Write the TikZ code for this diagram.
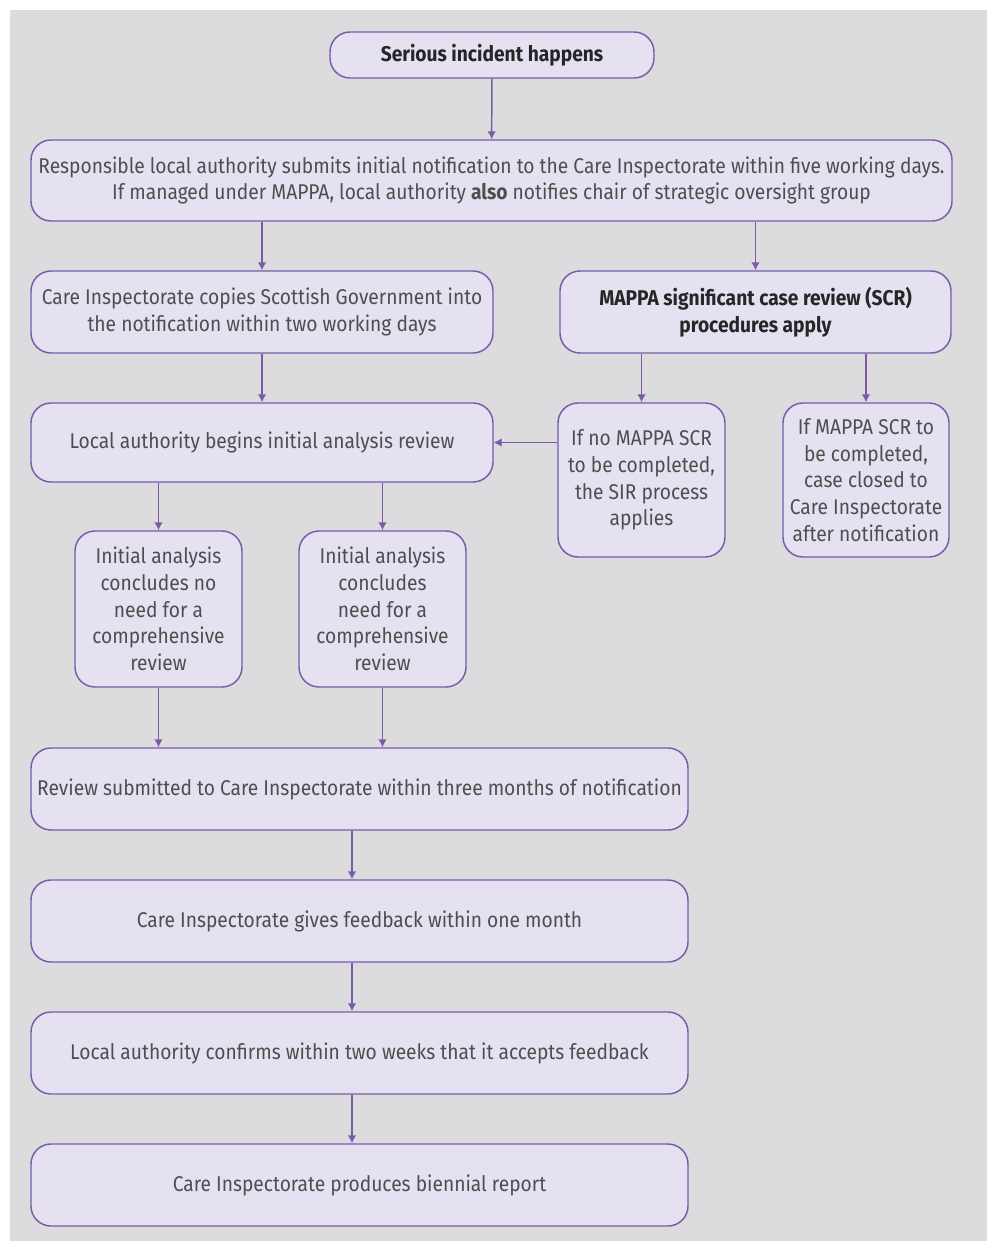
\documentclass[tikz,border=0pt]{standalone}
\usepackage{fontspec}
\setmainfont{Fira Sans}[FakeStretch=0.9]
\usetikzlibrary{arrows.meta,positioning}
\definecolor{panelgrey}{HTML}{DCDCDE}
\definecolor{boxfill}{HTML}{E5E1F0}
\definecolor{boxline}{HTML}{7A5BA8}
\definecolor{textgrey}{HTML}{4E4E4E}
\begin{document}
\begin{tikzpicture}[x=0.75pt,y=-0.75pt,>={Latex[length=6pt,width=6.5pt]},
stage/.style={
% The shape:
rectangle,rounded corners=15pt,
% The border:
draw=boxline,line width=1.1pt,
% The filling:
fill=boxfill,
% Font
text=textgrey,align=center,inner sep=0pt,
font=\fontsize{16}{20}\selectfont},
size/.style 2 args={minimum width=#1*0.75pt,minimum height=#2*0.75pt},
key/.style={text=black!85,font=\fontsize{16}{20}\selectfont\bfseries},
link/.style={->,draw=boxline,line width=1.1pt}]

\useasboundingbox (0,0) rectangle (987,1241);
\fill[panelgrey] (10,10) rectangle (987,1241);

\node (serious) [stage,key,size={324}{46}] at (492,55) {Serious incident happens};
\node (resp) [stage,size={921}{81}] at (491.5,180.5) {Responsible local authority submits initial notification to the Care Inspectorate within five working days.\\ If managed under MAPPA, local authority \textbf{also} notifies chair of strategic oversight group};
\node (copies) [stage,size={462}{82}] at (262,312) {Care Inspectorate copies Scottish Government into\\ the notification within two working days};
\node (mappa) [stage,key,size={391}{82}] at (755.5,312) {MAPPA significant case review (SCR)\\ procedures apply};
\node (local) [stage,size={462}{79}] at (262,442.5) {Local authority begins initial analysis review};
\node (nomappa) [stage,size={167}{154}] at (641.5,480) {If no MAPPA SCR\\ to be completed,\\ the SIR process\\ applies};
\node (closed) [stage,size={166}{154}] at (866,480) {If MAPPA SCR to\\ be completed,\\ case closed to\\ Care Inspectorate\\ after notification};
\node (noneed) [stage,size={167}{156}] at (158.5,609) {Initial analysis\\ concludes no\\ need for a\\ comprehensive\\ review};
\node (need) [stage,size={167}{156}] at (382.5,609) {Initial analysis\\ concludes\\ need for a\\ comprehensive\\ review};
\node (review) [stage,size={657}{82}] at (359.5,789) {Review submitted to Care Inspectorate within three months of notification};
\node (feedback) [stage,size={657}{82}] at (359.5,921) {Care Inspectorate gives feedback within one month};
\node (confirm) [stage,size={657}{82}] at (359.5,1053) {Local authority confirms within two weeks that it accepts feedback};
\node (report) [stage,size={657}{82}] at (359.5,1185) {Care Inspectorate produces biennial report};
\coordinate (spine) at (352,0);

\draw[link] (serious) -- (resp);
\draw[link] (resp.south -| copies) -- (copies);
\draw[link] (resp.south -| mappa) -- (mappa);
\draw[link] (copies) -- (local);
\draw[link] (mappa.south -| nomappa) -- (nomappa);
\draw[link] (mappa.south -| closed) -- (closed);
\draw[link] (nomappa.west |- local) -- (local);
\draw[link] (local.south -| noneed) -- (noneed);
\draw[link] (local.south -| need) -- (need);
\draw[link] (noneed) -- (noneed |- review.north);
\draw[link] (need) -- (need |- review.north);
\draw[link] (review.south -| spine) -- (feedback.north -| spine);
\draw[link] (feedback.south -| spine) -- (confirm.north -| spine);
\draw[link] (confirm.south -| spine) -- (report.north -| spine);
\end{tikzpicture}
\end{document}
